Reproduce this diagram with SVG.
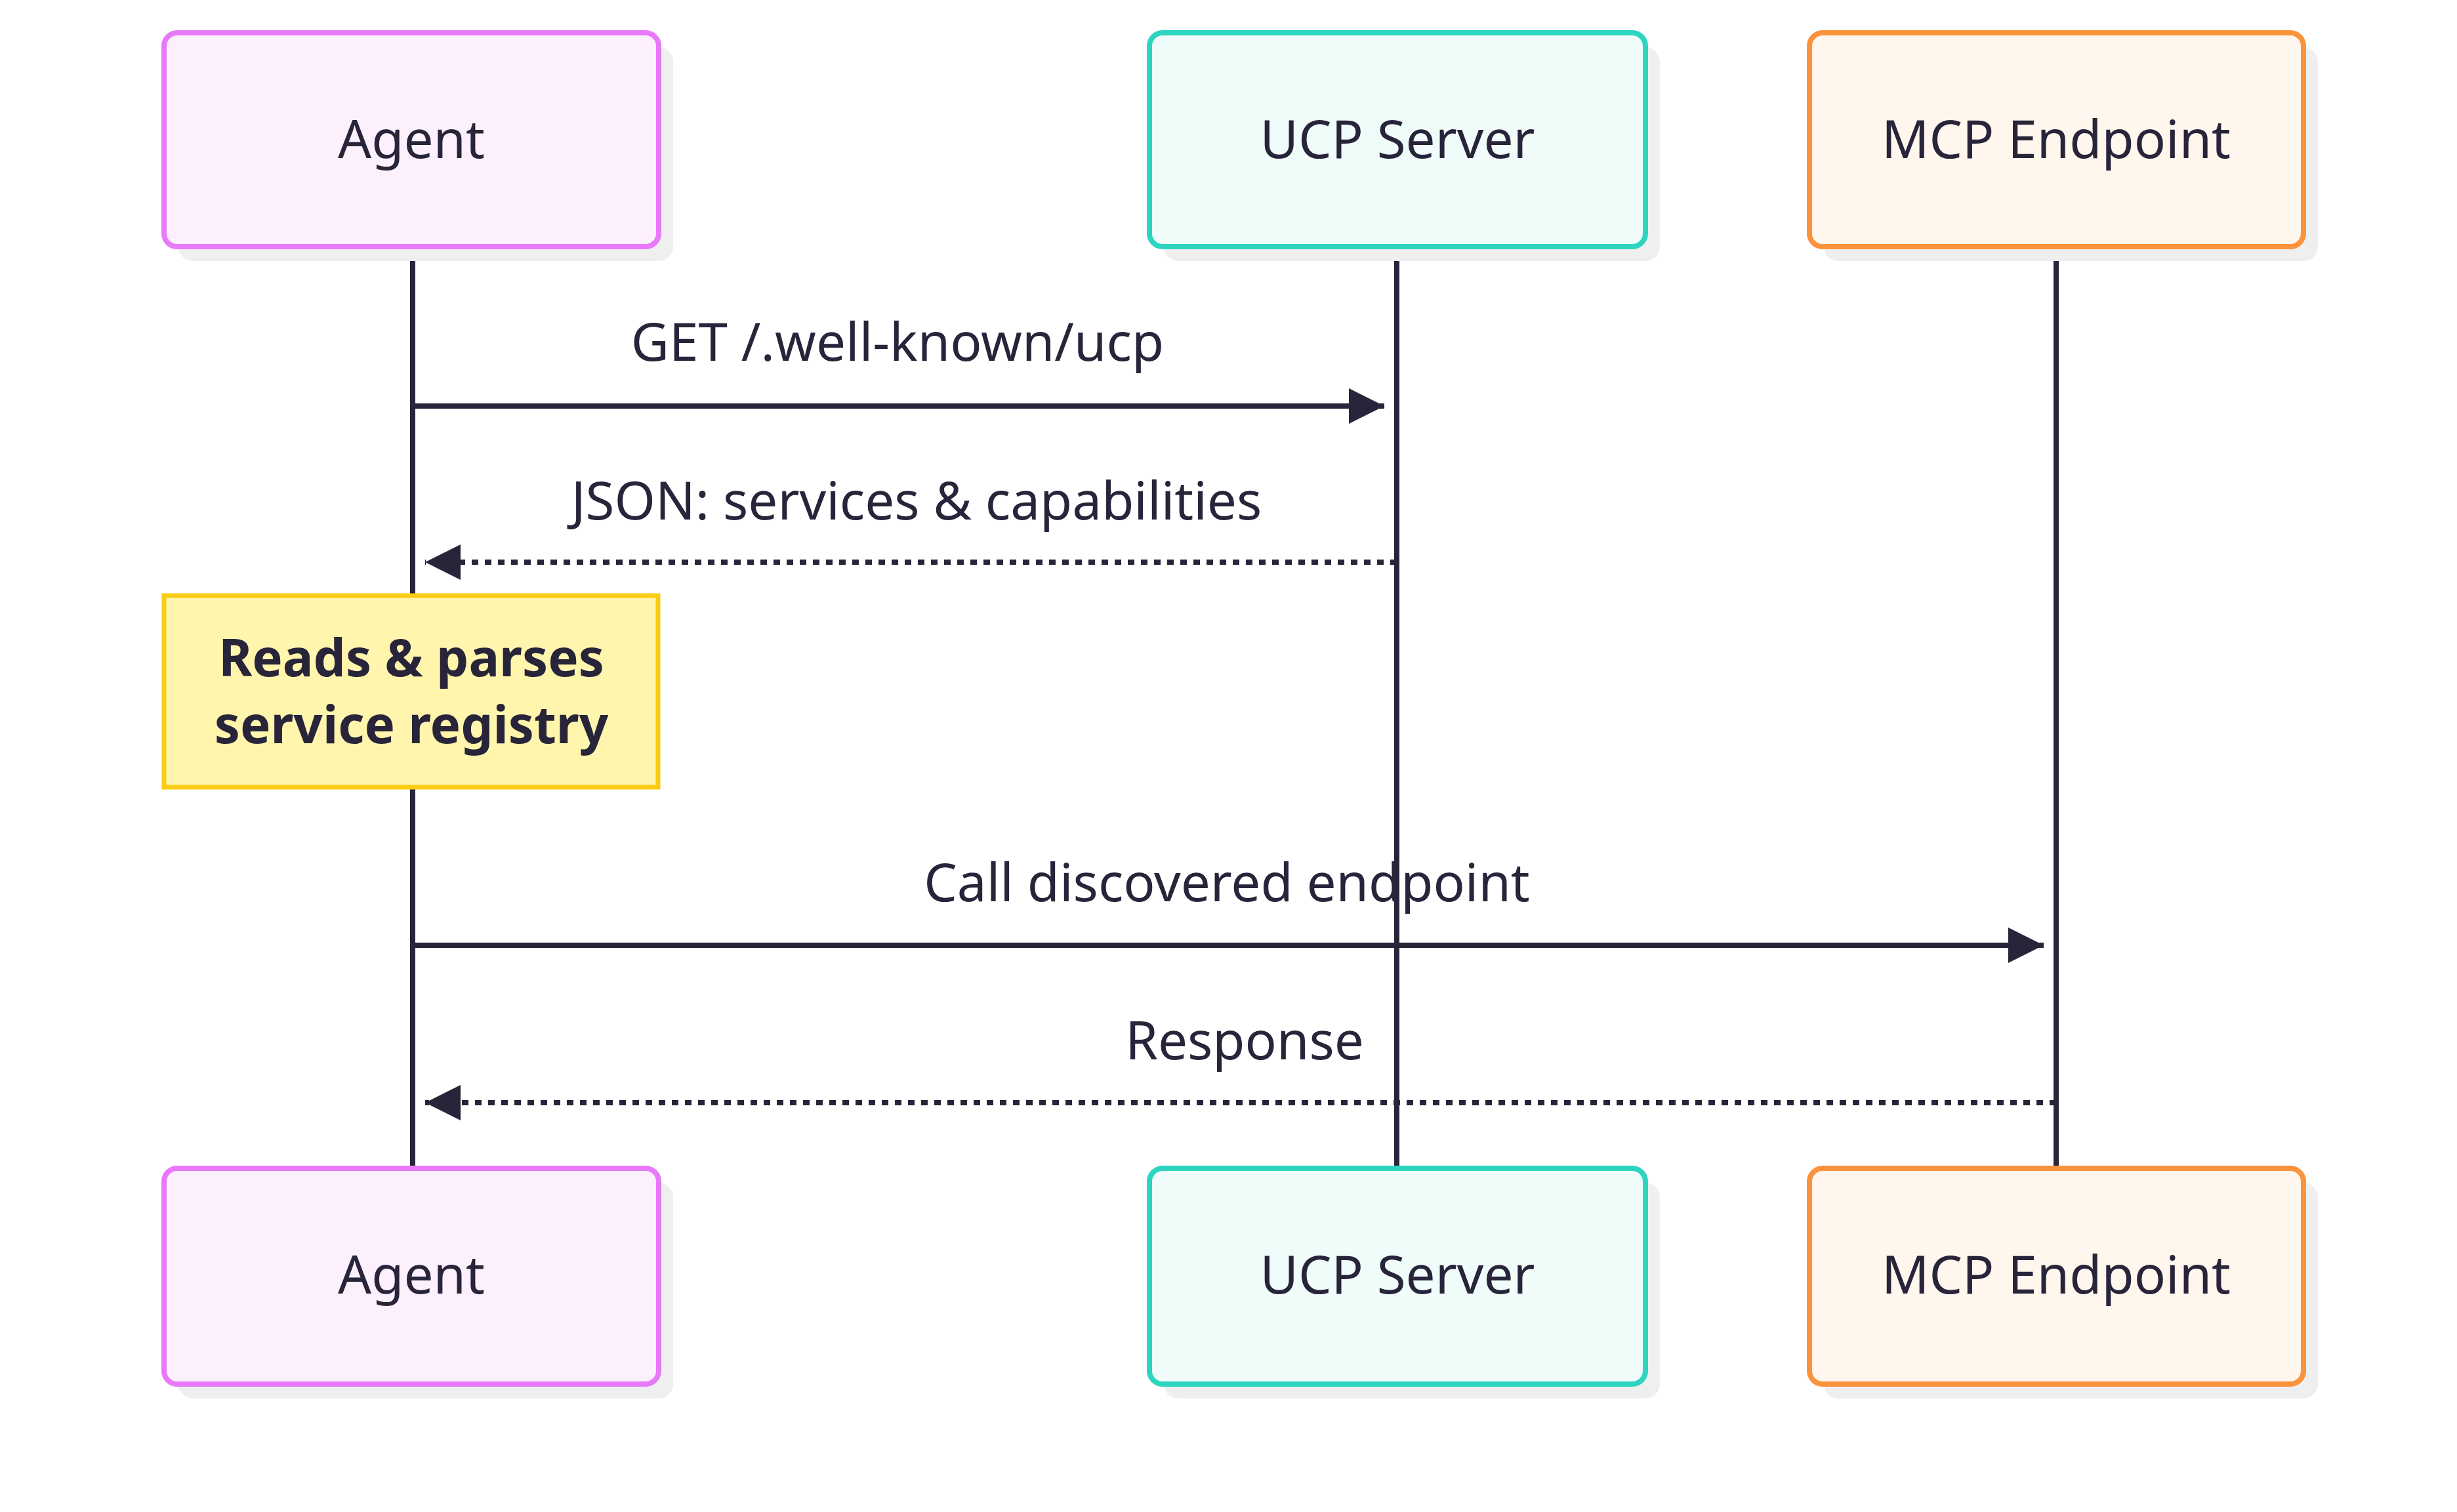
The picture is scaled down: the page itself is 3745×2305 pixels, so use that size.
<svg xmlns="http://www.w3.org/2000/svg" width="3745" height="2305" viewBox="0 0 3745 2305">
<style>
text{font-family:"Noto Sans","DejaVu Sans",sans-serif;fill:#28243a;text-anchor:middle}
.lbl{font-size:80px}
.msg{font-size:80px}
.note{font-size:78px;font-weight:bold}
.sh{fill:#efefef}
.ag{fill:#fdf0fd;stroke:#e879f9;stroke-width:8}
.uc{fill:#effcf9;stroke:#2dd4bf;stroke-width:8}
.mc{fill:#fff6ed;stroke:#fb923c;stroke-width:8}
.life{stroke:#28243a;stroke-width:8;fill:none}
.solid{stroke:#28243a;stroke-width:8;fill:none}
.dash{stroke:#28243a;stroke-width:8;fill:none;stroke-dasharray:10 10}
</style>
<defs>
<marker id="ah" viewBox="0 0 10 10" refX="10" refY="5" markerWidth="6.8" markerHeight="6.8" markerUnits="strokeWidth" orient="auto"><path d="M0,0L10,5L0,10z" fill="#28243a"/></marker>
</defs>
<g id="lifelines">
<line class="life" x1="629" y1="372" x2="629" y2="907"/>
<line class="life" x1="629" y1="1200" x2="629" y2="1781"/>
<line class="life" x1="2129" y1="372" x2="2129" y2="1781"/>
<line class="life" x1="3134" y1="372" x2="3134" y2="1781"/>
</g>
<g id="agent-top"><rect class="sh" x="272" y="72" width="754" height="326" rx="22"/><rect class="ag" x="250" y="50" width="754" height="326" rx="20"/><text class="lbl" x="627" y="241">Agent</text></g>
<g id="ucp-top"><rect class="sh" x="1774" y="72" width="756" height="326" rx="22"/><rect class="uc" x="1752" y="50" width="756" height="326" rx="20"/><text class="lbl" x="2130" y="241">UCP Server</text></g>
<g id="mcp-top"><rect class="sh" x="2780" y="72" width="753" height="326" rx="22"/><rect class="mc" x="2758" y="50" width="753" height="326" rx="20"/><text class="lbl" x="3134" y="241">MCP Endpoint</text></g>
<g id="agent-bot"><rect class="sh" x="272" y="1803" width="754" height="329" rx="22"/><rect class="ag" x="250" y="1781" width="754" height="329" rx="20"/><text class="lbl" x="627" y="1972">Agent</text></g>
<g id="ucp-bot"><rect class="sh" x="1774" y="1803" width="756" height="329" rx="22"/><rect class="uc" x="1752" y="1781" width="756" height="329" rx="20"/><text class="lbl" x="2130" y="1972">UCP Server</text></g>
<g id="mcp-bot"><rect class="sh" x="2780" y="1803" width="753" height="329" rx="22"/><rect class="mc" x="2758" y="1781" width="753" height="329" rx="20"/><text class="lbl" x="3134" y="1972">MCP Endpoint</text></g>
<g id="note"><rect x="250" y="908" width="753" height="292" fill="#fff5ad" stroke="#facc15" stroke-width="7"/><text class="note" x="627" y="1031">Reads &amp; parses</text><text class="note" x="627" y="1133">service registry</text></g>
<g id="connectors">
<line class="solid" x1="629" y1="619" x2="2110" y2="619" marker-end="url(#ah)"/>
<text class="msg" x="1368" y="550">GET /.well-known/ucp</text>
<line class="dash" x1="2129" y1="857" x2="648" y2="857" marker-end="url(#ah)"/>
<text class="msg" x="1397" y="792">JSON: services &amp; capabilities</text>
<line class="solid" x1="629" y1="1441" x2="3115" y2="1441" marker-end="url(#ah)"/>
<text class="msg" x="1870" y="1374">Call discovered endpoint</text>
<line class="dash" x1="3134" y1="1681" x2="648" y2="1681" marker-end="url(#ah)"/>
<text class="msg" x="1897" y="1615">Response</text>
</g>
</svg>
